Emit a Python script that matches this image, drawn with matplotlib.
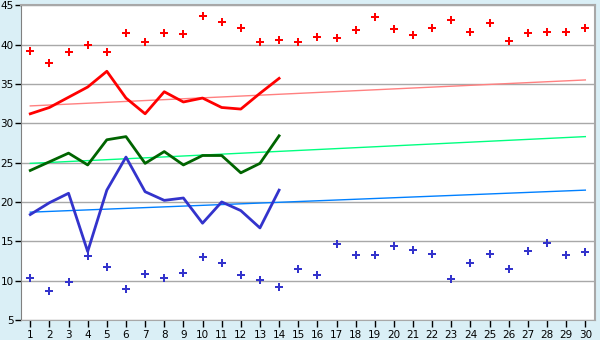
import numpy as np
import matplotlib.pyplot as plt

days = list(range(1, 31))

red_dots = [39.2, 37.7, 39.1, 39.9, 39.0, 41.5, 40.3, 41.5, 41.4, 43.6,
            42.8, 42.1, 40.3, 40.6, 40.3, 40.9, 40.8, 41.9, 43.5, 42.0,
            41.2, 42.1, 43.1, 41.6, 42.7, 40.4, 41.5, 41.6, 41.6, 42.1]
blue_dots = [10.4, 8.7, 9.8, 13.1, 11.7, 8.9, 10.8, 10.3, 11.0, 13.0,
             12.2, 10.7, 10.1, 9.2, 11.5, 10.7, 14.6, 13.2, 13.3, 14.4,
             13.9, 13.4, 10.2, 12.3, 13.4, 11.5, 13.8, 14.8, 13.2, 13.7]

line_days = list(range(1, 15))
red_line = [31.2, 32.0, 33.3, 34.6, 36.6, 33.2, 31.2, 34.0, 32.7, 33.2,
            32.0, 31.8, 33.8, 35.7]
green_line = [24.0, 25.1, 26.2, 24.7, 27.9, 28.3, 24.9, 26.4, 24.7, 25.9,
              25.9, 23.7, 24.9, 28.4]
blue_line = [18.4, 19.9, 21.1, 13.7, 21.5, 25.7, 21.3, 20.2, 20.5, 17.3,
             20.0, 18.9, 16.7, 21.5]

trend_x = [1, 30]
red_trend = [32.2, 35.5]
green_trend = [24.9, 28.3]
blue_trend = [18.7, 21.5]

bg = "#daeff6"
grid_c = "#a8a8a8"

fig = plt.figure(figsize=(6, 3.4), dpi=100, facecolor=bg)
ax = fig.add_axes([0.0345, 0.0588, 0.957, 0.926])
ax.set_facecolor("white")

ax.grid(axis="y", color=grid_c, lw=1)
ax.set_axisbelow(True)

# trend lines
ax.plot(trend_x, red_trend, color="#ff8080", lw=1)
ax.plot(trend_x, green_trend, color="#00ff80", lw=1)
ax.plot(trend_x, blue_trend, color="#0080ff", lw=1)

# daily lines
ax.plot(line_days, red_line, color="#ff0000", lw=2)
ax.plot(line_days, green_line, color="#006400", lw=2)
ax.plot(line_days, blue_line, color="#3333cc", lw=2)

# scatter points
ax.plot(days, red_dots, ls="none", marker="P", ms=6, color="#ff0000", mew=0)
ax.plot(days, blue_dots, ls="none", marker="P", ms=6, color="#3333cc", mew=0)

ax.set_xlim(0.5, 30.5)
ax.set_ylim(5, 45)
ax.set_xticks(days)
ax.set_yticks(range(5, 50, 5))

for s in ["top", "right"]:
    ax.spines[s].set_color(grid_c)
    ax.spines[s].set_linewidth(1.5)
ax.spines["left"].set_color("#808080")
ax.spines["bottom"].set_color(grid_c)
ax.tick_params(axis="x", length=5, width=1, color="black", pad=2, labelsize=7.5)
ax.tick_params(axis="y", length=4, width=1, color="black", pad=1, labelsize=7.5)

fig.savefig("out.png", dpi=100, facecolor=bg)
